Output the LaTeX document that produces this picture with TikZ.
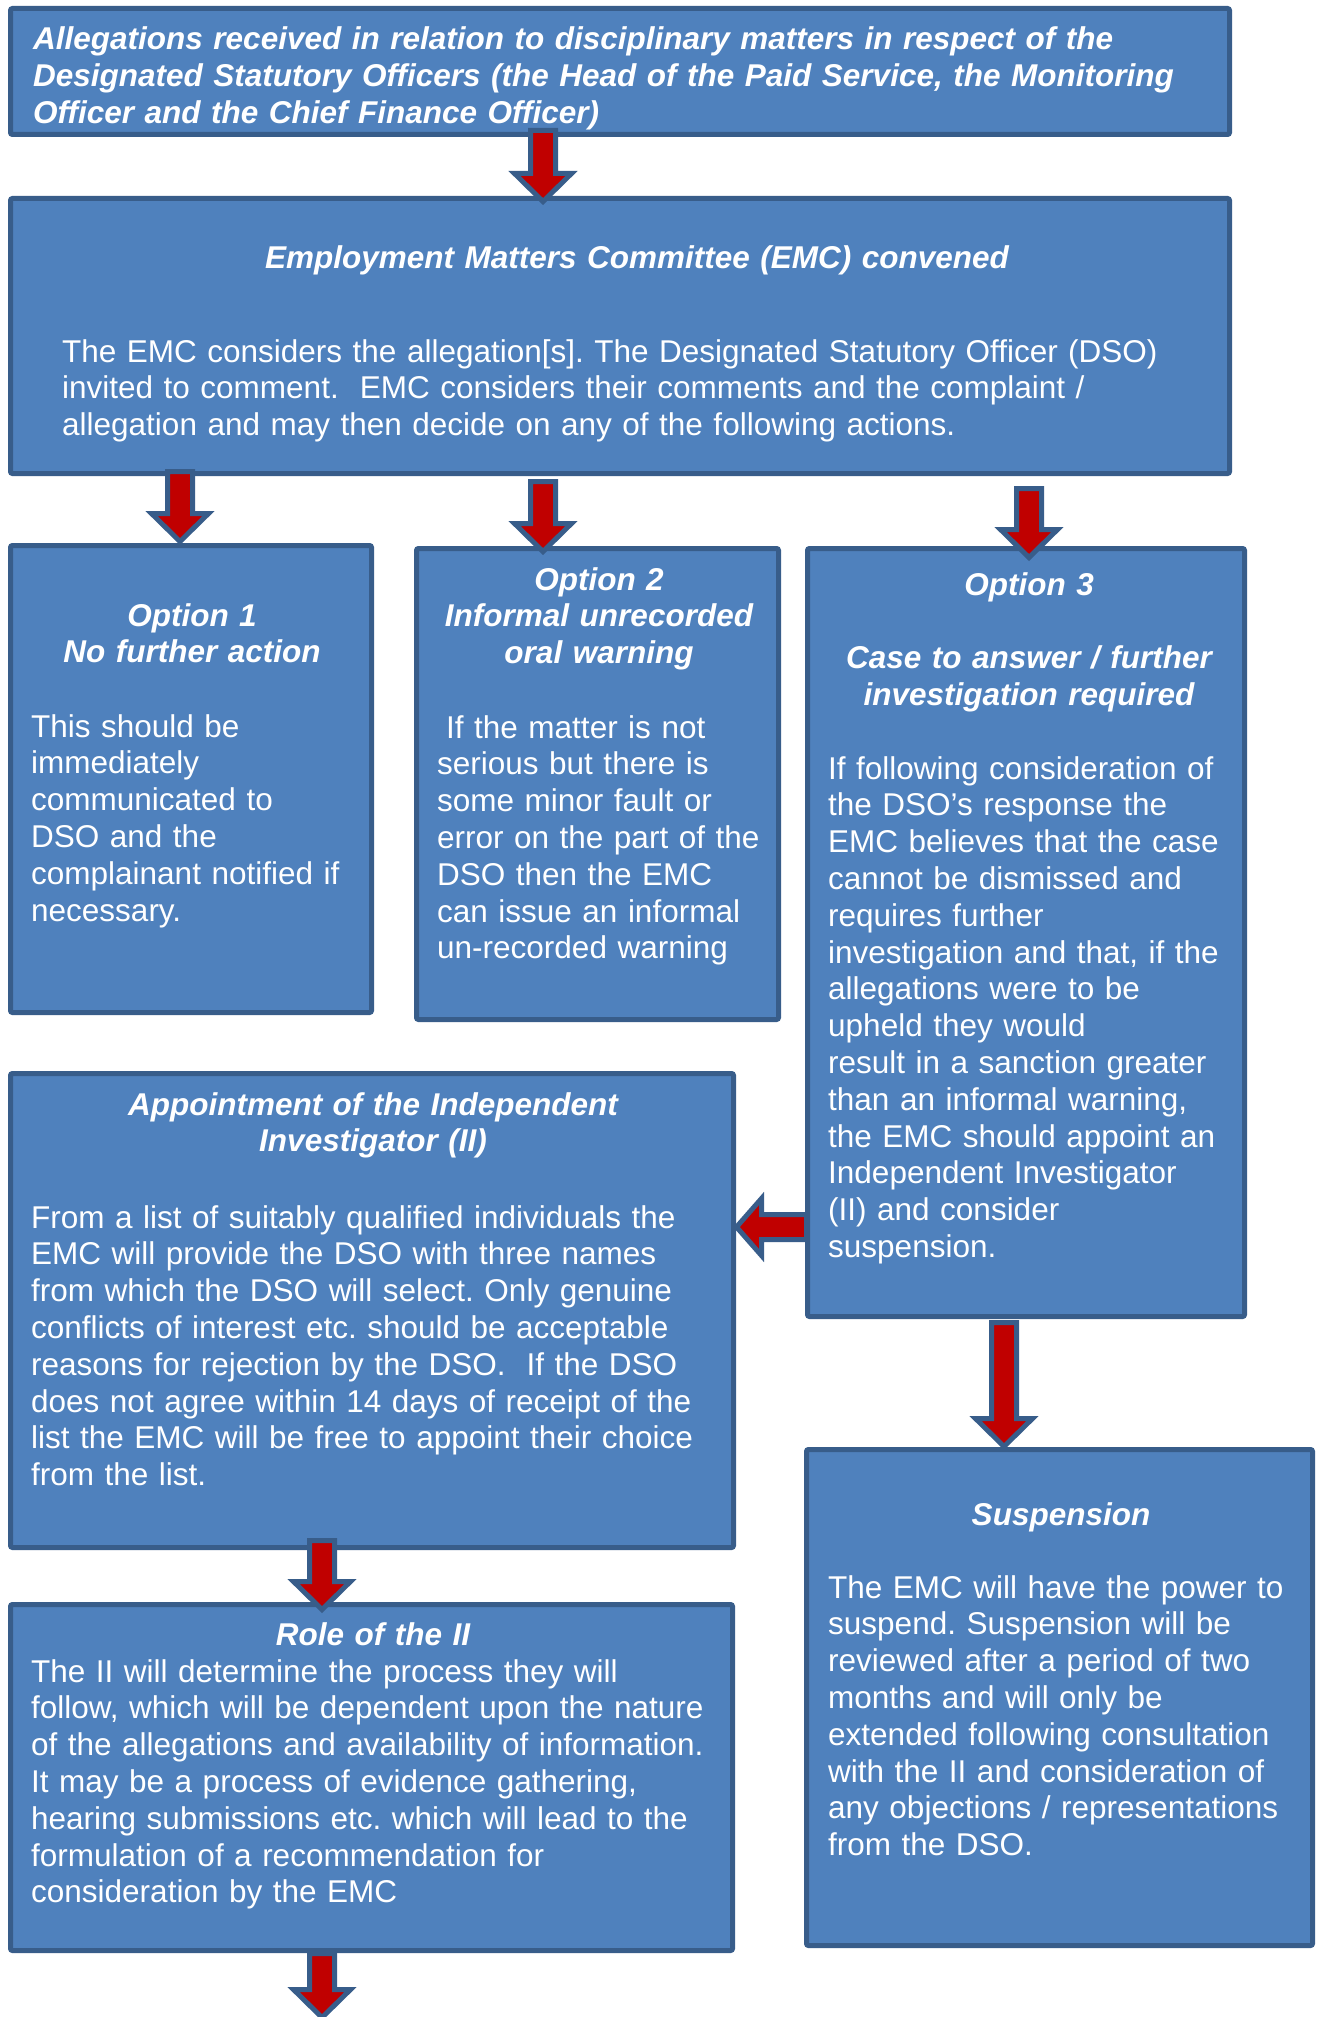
\documentclass[tikz,border=0pt]{standalone}
\usepackage{fontspec}
\setmainfont{Liberation Sans}
\usetikzlibrary{calc}
\frenchspacing
\definecolor{boxfill}{HTML}{4F81BD}
\definecolor{boxline}{HTML}{385D8A}
\definecolor{arrred}{HTML}{C00000}
\tikzset{
  box/.style={draw=boxline, fill=boxfill, line width=5pt, rounded corners=2pt, inner sep=0pt, outer sep=0pt},
  blockarr/.style={fill=arrred, draw=boxline, line width=5pt, line join=miter},
  txt/.style={text=white, inner sep=0pt, align=left, font=\fontsize{31.5}{36.8}\selectfont},
  ttl/.style={text=white, inner sep=0pt, align=center, font=\fontsize{31.5}{36.8}\selectfont\bfseries\itshape},
}
% box from outer extents
\newcommand\mkbox[5]{\node[box, minimum width={#4-#2-5}, minimum height={#5-#3-5}] (#1) at ({(#2+#4)/2},{(#3+#5)/2}) {};}
% down block arrow: #1 start (top of shaft), #2 tip
\newcommand\downarr[2]{\draw[blockarr] let \p1=(#1), \p2=(#2) in
  (\x1-12.5pt,\y1) -- (\x1+12.5pt,\y1) -- (\x1+12.5pt,\y2+28pt) -- (\x1+28.5pt,\y2+28pt)
  -- (\x1,\y2) -- (\x1-28.5pt,\y2+28pt) -- (\x1-12.5pt,\y2+28pt) -- cycle;}
% left block arrow: #1 start (right end of shaft), #2 tip
\newcommand\leftarr[2]{\draw[blockarr] let \p1=(#1), \p2=(#2) in
  (\x1,\y1+12.5pt) -- (\x2+25pt,\y1+12.5pt) -- (\x2+25pt,\y1+28.5pt) -- (\x2,\y1)
  -- (\x2+25pt,\y1-28.5pt) -- (\x2+25pt,\y1-12.5pt) -- (\x1,\y1-12.5pt) -- cycle;}
\begin{document}
\begin{tikzpicture}[x=1pt,y=-1pt]
\useasboundingbox (0,0) rectangle (1321,2017);
\fill[white] (0,0) rectangle (1321,2017);

% boxes
\mkbox{b1}{8}{6}{1232}{137}
\mkbox{b2}{8}{196}{1232}{476}
\mkbox{o1}{8}{543}{374}{1015}
\mkbox{o2}{414}{546}{781}{1022}
\mkbox{o3}{805}{546}{1247}{1319}
\mkbox{app}{8}{1071}{736}{1550}
\mkbox{role}{8}{1602}{735}{1953}
\mkbox{susp}{804}{1447}{1315}{1948}

% helper x/y references
\coordinate (x543) at (543,0);
\coordinate (x180) at (180,0);
\coordinate (x1029) at (1029,0);
\coordinate (x1004) at (1004,0);
\coordinate (x322) at (322,0);
\coordinate (y1227) at (0,1227);

% arrow end points
\coordinate (a1s) at ($(b1.south -| x543)+(0,-4)$);
\coordinate (a1e) at ($(b2.north -| x543)+(0,3)$);
\coordinate (a2s) at ($(b2.south -| x180)+(0,-2)$);
\coordinate (a2e) at ($(o1.north -| x180)+(0,-4)$);
\coordinate (a3s) at ($(b2.south -| x543)+(0,8)$);
\coordinate (a3e) at ($(o2.north -| x543)+(0,3)$);
\coordinate (a4s) at ($(b2.south -| x1029)+(0,15)$);
\coordinate (a4e) at ($(o3.north -| x1029)+(0,9)$);
\coordinate (a5s) at ($(o3.south -| x1004)+(0,6)$);
\coordinate (a5e) at ($(susp.north -| x1004)+(0,-3)$);
\coordinate (a6s) at ($(app.south -| x322)+(0,-7)$);
\coordinate (a6e) at ($(role.north -| x322)+(0,5)$);
\coordinate (a7s) at ($(role.south -| x322)+(0,3)$);
\coordinate (a7e) at ($(role.south -| x322)+(0,67)$);
\coordinate (a8s) at ($(o3.west |- y1227)+(-1,0)$);
\coordinate (a8e) at ($(app.east |- y1227)+(3,0)$);

\downarr{a1s}{a1e}
\downarr{a2s}{a2e}
\downarr{a3s}{a3e}
\downarr{a4s}{a4e}
\downarr{a5s}{a5e}
\downarr{a6s}{a6e}
\downarr{a7s}{a7e}
\leftarr{a8s}{a8e}

% texts
\node[txt, anchor=base west, text width=1190pt, font=\fontsize{31.5}{36.8}\selectfont\bfseries\itshape] (t1) at (33,50)
 {Allegations received in relation to disciplinary matters in respect of the\\
  Designated Statutory Officers (the Head of the Paid Service, the Monitoring\\
  Officer and the Chief Finance Officer)};

\node[ttl, anchor=base, text width=1000pt] (t2h) at (637,269) {Employment Matters Committee (EMC) convened};
\node[txt, anchor=base west, text width=1160pt] (t2b) at (62,362)
 {The EMC considers the allegation[s]. The Designated Statutory Officer (DSO)\\
  invited to comment.\ \ EMC considers their comments and the complaint /\\
  allegation and may then decide on any of the following actions.};

\node[ttl, anchor=base, text width=360pt] (o1h) at (192,626) {Option 1\\No further action};
\node[txt, anchor=base west, text width=340pt] (o1b) at (31,737)
 {This should be\\ immediately\\ communicated to\\ DSO and the\\ complainant notified if\\ necessary.};

\node[ttl, anchor=base, text width=360pt] (o2h) at (599,590) {Option 2\\Informal unrecorded\\oral warning};
\node[txt, anchor=base west, text width=340pt] (o2b) at (437,738)
 {\hspace*{9pt}If the matter is not\\ serious but there is\\ some minor fault or\\ error on the part of the\\ DSO then the EMC\\ can issue an informal\\ un-recorded warning};

\node[ttl, anchor=base, text width=430pt] (o3h) at (1029,595) {Option 3\\[36.8pt]Case to answer / further\\investigation required};
\node[txt, anchor=base west, text width=415pt] (o3b) at (828,779)
 {If following consideration of\\ the DSO’s response the\\ EMC believes that the case\\ cannot be dismissed and\\ requires further\\ investigation and that, if the\\ allegations were to be\\ upheld they would\\ result in a sanction greater\\ than an informal warning,\\ the EMC should appoint an\\ Independent Investigator\\ (II) and consider\\ suspension.};

\node[ttl, anchor=base, text width=700pt] (apph) at (373,1115) {Appointment of the Independent\\Investigator (II)};
\node[txt, anchor=base west, text width=700pt] (appb) at (31,1228)
 {From a list of suitably qualified individuals the\\ EMC will provide the DSO with three names\\ from which the DSO will select. Only genuine\\ conflicts of interest etc. should be acceptable\\ reasons for rejection by the DSO.\ \ If the DSO\\ does not agree within 14 days of receipt of the\\ list the EMC will be free to appoint their choice\\ from the list.};

\node[ttl, anchor=base, text width=700pt] (roleh) at (373,1645) {Role of the II};
\node[txt, anchor=base west, text width=700pt] (roleb) at (31,1682)
 {The II will determine the process they will\\ follow, which will be dependent upon the nature\\ of the allegations and availability of information.\\ It may be a process of evidence gathering,\\ hearing submissions etc. which will lead to the\\ formulation of a recommendation for\\ consideration by the EMC};

\node[ttl, anchor=base, text width=480pt] (susph) at (1061,1525) {Suspension};
\node[txt, anchor=base west, text width=480pt] (suspb) at (828,1598)
 {The EMC will have the power to\\ suspend. Suspension will be\\ reviewed after a period of two\\ months and will only be\\ extended following consultation\\ with the II and consideration of\\ any objections / representations\\ from the DSO.};
\end{tikzpicture}
\end{document}
